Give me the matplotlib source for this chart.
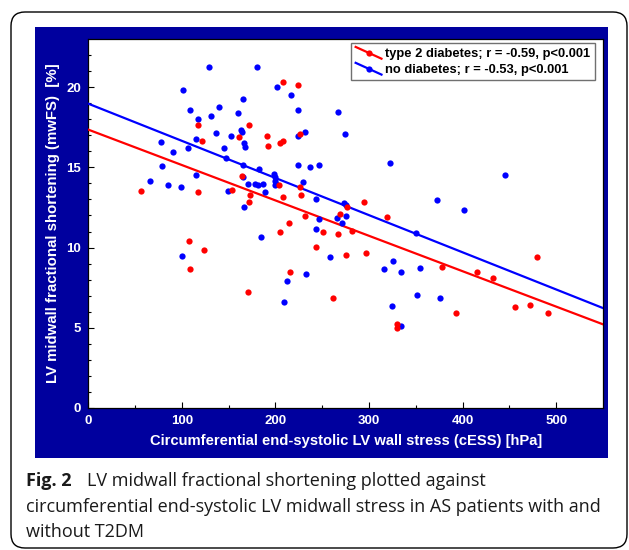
import matplotlib
matplotlib.use('Agg')
import matplotlib.pyplot as plt
import numpy as np
from matplotlib.patches import FancyBboxPatch, Rectangle
from matplotlib.lines import Line2D
from matplotlib.legend_handler import HandlerLine2D

# --- data ---
red_x = [117.3, 171.5, 161.5, 121.6, 56.3, 117.3, 153.3, 164.3, 172.5, 171.9,
         107.7, 123.3, 108.8, 170.4, 207.8, 223.9, 226.7, 191.4, 192.5, 205.0,
         207.8, 204.3, 207.8, 227.4, 226.7, 231.7, 214.2, 205.0, 251.3, 243.5,
         216.0, 275.9, 296.6, 276.0, 269.2, 281.6, 267.0, 294.9, 319.0, 261.0,
         479.5, 377.5, 415.7, 432.4, 393.2, 456.3, 471.7, 491.6, 329.7, 330.0]
red_y = [17.67, 17.67, 16.9, 16.65, 13.52, 13.46, 13.62, 14.48, 13.3, 12.84,
         10.42, 9.84, 8.69, 7.25, 20.34, 20.17, 17.06, 16.94, 16.36, 16.5,
         16.67, 13.92, 13.13, 13.29, 13.77, 11.98, 11.56, 11.0, 11.0, 10.06,
         8.46, 9.54, 9.67, 12.55, 12.1, 11.06, 10.83, 12.84, 11.92, 6.88,
         9.38, 8.8, 8.5, 8.1, 5.9, 6.31, 6.42, 5.9, 5.2, 5.0]

blue_x = [129.4, 180.0, 101.6, 165.4, 108.7, 140.0, 159.7, 117.3, 131.2, 163.6,
          164.5, 136.9, 153.0, 115.2, 166.0, 167.6, 78.0, 90.2, 106.6, 144.7,
          147.3, 78.8, 165.0, 66.3, 84.8, 98.7, 115.2, 149.0, 165.3, 170.7,
          178.2, 181.0, 166.5, 100.5, 184.7, 202.1, 216.8, 223.9, 267.0, 231.7,
          223.9, 274.2, 224.6, 236.4, 247.0, 322.2, 182.9, 198.9, 200.0, 199.7,
          200.7, 200.0, 186.3, 189.0, 229.9, 243.5, 246.3, 243.5, 232.4, 212.1,
          258.8, 273.4, 275.5, 265.6, 275.2, 270.9, 350.0, 325.5, 316.1, 334.3,
          354.0, 351.1, 208.8, 445.3, 372.5, 401.8, 375.4, 324.4, 334.3]
blue_y = [21.3, 21.25, 19.86, 19.3, 18.6, 18.8, 18.4, 18.0, 18.2, 17.35,
          17.2, 17.17, 16.98, 16.8, 16.5, 16.3, 16.6, 15.94, 16.2, 16.2,
          15.6, 15.1, 15.17, 14.17, 13.88, 13.75, 14.5, 13.54, 14.42, 13.98,
          13.96, 13.92, 12.54, 9.48, 10.63, 20.04, 19.54, 18.56, 18.48, 17.23,
          16.94, 17.1, 15.15, 15.0, 15.15, 15.27, 14.9, 14.56, 14.42, 14.17,
          13.98, 13.9, 13.94, 13.46, 14.08, 13.02, 11.77, 11.17, 8.34, 7.88,
          9.38, 12.75, 12.63, 11.84, 11.98, 11.56, 10.88, 9.17, 8.69, 8.5,
          8.75, 7.06, 6.6, 14.5, 12.94, 12.36, 6.88, 6.38, 5.1]

# regression lines (intercept, slope)
red_fit = (17.36, -0.0221)
blue_fit = (18.98, -0.0232)

labels = ['type 2 diabetes; r = -0.59, p<0.001', 'no diabetes; r = -0.53, p<0.001']
x_ticks = [0, 100, 200, 300, 400, 500]
y_ticks = [0, 5, 10, 15, 20]

RED = '#FF0000'
BLUE = '#0000FF'
PANEL = '#00009E'

plt.rcParams['font.family'] = ['Liberation Sans', 'DejaVu Sans']

W, H = 629, 550
fig = plt.figure(figsize=(W / 100, H / 100), dpi=100)
fig.patch.set_facecolor('white')

# outer rounded card (pixel coords)
card = FancyBboxPatch((11, 2), 616, 536, boxstyle='round,pad=0,rounding_size=14',
                      transform=None, facecolor='white', edgecolor='black', lw=1.0, zorder=0)
fig.patches.append(card)

# dark blue panel
panel = Rectangle((35 / W, 1 - 458 / H), (608 - 35) / W, (458 - 27) / H,
                  transform=fig.transFigure, facecolor=PANEL, edgecolor='none', zorder=1)
fig.patches.append(panel)

ax = fig.add_axes([88.3 / W, 1 - 407.7 / H, (603 - 88.3) / W, (407.7 - 39.3) / H])
ax.set_zorder(2)
ax.set_facecolor('white')

xx = np.array([0, 550])
ax.plot(xx, red_fit[0] + red_fit[1] * xx, color=RED, lw=1.6, zorder=3)
ax.plot(xx, blue_fit[0] + blue_fit[1] * xx, color=BLUE, lw=1.6, zorder=3)
ax.plot(blue_x, blue_y, 'o', color=BLUE, ms=4.5, mec='none', zorder=4)
ax.plot(red_x, red_y, 'o', color=RED, ms=4.5, mec='none', zorder=4)

ax.set_xlim(0, 550)
ax.set_ylim(0, 23)
ax.set_xticks(x_ticks)
ax.set_yticks(y_ticks)
ax.set_xticks(np.arange(50, 550, 100), minor=True)
ax.set_yticks(np.arange(1, 23, 1), minor=True)
ax.tick_params(which='both', direction='in', colors='black', labelcolor='white',
               labelsize=9.5, width=0.8)
ax.tick_params(which='major', length=4)
ax.tick_params(which='minor', length=2.5)
ax.tick_params(axis='y', pad=5)
ax.tick_params(axis='x', pad=5)
for lab in ax.get_xticklabels() + ax.get_yticklabels():
    lab.set_fontweight('bold')
for s in ax.spines.values():
    s.set_color('black')
    s.set_linewidth(0.9)

ax.set_xlabel('Circumferential end-systolic LV wall stress (cESS) [hPa]',
              color='white', fontweight='bold', fontsize=10.6, labelpad=5)
ax.set_ylabel('LV midwall fractional shortening (mwFS)  [%]',
              color='white', fontweight='bold', fontsize=10.8, labelpad=5)


class DiagHandler(HandlerLine2D):
    def create_artists(self, legend, orig_handle, xdescent, ydescent,
                       width, height, fontsize, trans):
        x0, x1 = -xdescent, -xdescent + width
        y0, y1 = -ydescent + height * 1.1, -ydescent - height * 0.2
        c = orig_handle.get_color()
        ln = Line2D([x0, x1], [y0, y1], color=c, lw=1.6, transform=trans)
        mk = Line2D([(x0 + x1) / 2], [(y0 + y1) / 2], marker='o', ms=4.5,
                    color=c, mec='none', transform=trans)
        return [ln, mk]


handles = [Line2D([], [], color=RED), Line2D([], [], color=BLUE)]
leg = ax.legend(handles, labels, loc='upper right',
                bbox_to_anchor=(595 / W, 1 - 43.3 / H), bbox_transform=fig.transFigure,
                borderaxespad=0, fancybox=False, edgecolor='#707070', framealpha=1,
                prop={'weight': 'bold', 'size': 9.3}, handlelength=2.0, handletextpad=0.3,
                labelspacing=0.3, borderpad=0.35,
                handler_map={Line2D: DiagHandler()})
leg.get_frame().set_linewidth(1.0)

# caption
cap_font = ['Open Sans', 'DejaVu Sans']
cap_size = 13.0
fig.text(26 / W, 1 - 481 / H, 'Fig. 2', fontsize=cap_size, fontweight='bold',
         family=cap_font, va='center', ha='left', color='#1a1a1a')
fig.text(87 / W, 1 - 481 / H, 'LV midwall fractional shortening plotted against',
         fontsize=cap_size, family=cap_font, va='center', ha='left', color='#1a1a1a')
fig.text(26 / W, 1 - 507 / H,
         'circumferential end-systolic LV midwall stress in AS patients with and',
         fontsize=cap_size, family=cap_font, va='center', ha='left', color='#1a1a1a')
fig.text(26 / W, 1 - 532 / H, 'without T2DM',
         fontsize=cap_size, family=cap_font, va='center', ha='left', color='#1a1a1a')

fig.savefig('out.png', dpi=100)
